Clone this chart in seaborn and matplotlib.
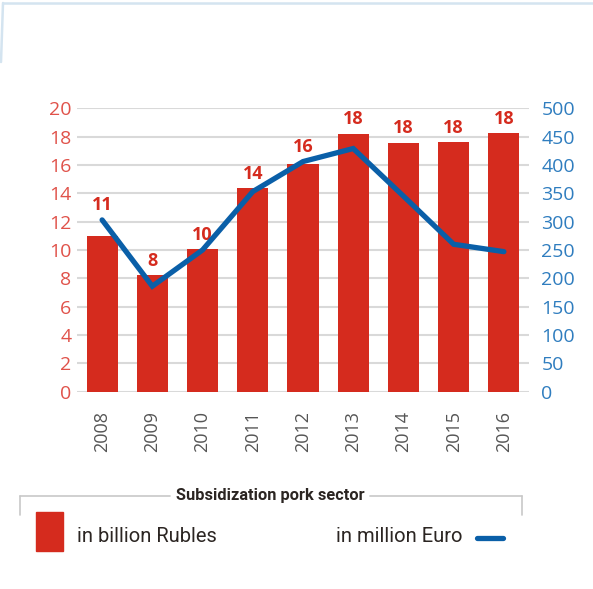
import numpy as np
import pandas as pd
import matplotlib
matplotlib.use("Agg")
import matplotlib.pyplot as plt
from matplotlib.lines import Line2D
from matplotlib.patches import Rectangle
import seaborn as sns

years = ["2008", "2009", "2010", "2011", "2012", "2013", "2014", "2015", "2016"]
rubles_bn = [11.0, 8.2, 10.05, 14.35, 16.1, 18.2, 17.55, 17.6, 18.25]
euro_mn = [303, 186, 250, 353, 406, 429, 345, 260, 247]
bar_labels = ["11", "8", "10", "14", "16", "18", "18", "18", "18"]
left_ticks = list(range(0, 21, 2))
right_ticks = list(range(0, 501, 50))

RED = "#d52b1e"
BLUE = "#0a5fa8"
LRED = "#e0524a"
LBLUE = "#2f7dbf"
GRID = "#d9d9d9"

sns.set_theme(style="white")
plt.rcParams["font.family"] = ["Open Sans", "DejaVu Sans"]

W, H = 593, 589
fig = plt.figure(figsize=(W / 100, H / 100), dpi=100)
ax = fig.add_axes([77 / W, 1 - 391.6 / H, (529 - 77) / W, (391.6 - 108.3) / H])

df = pd.DataFrame({"year": years, "rub": rubles_bn})
sns.barplot(data=df, x="year", y="rub", color=RED, saturation=1, width=0.62, ax=ax, zorder=2)
for p in ax.patches:
    p.set_edgecolor("none")

ax.set_ylim(0, 20)
ax.set_xlim(-0.5, 8.5)
ax.set_yticks(left_ticks)
ax.set_yticklabels([str(t) for t in left_ticks])
ax.grid(axis="y", color=GRID, linewidth=1.5, zorder=0)
ax.set_axisbelow(True)
ax.tick_params(axis="y", length=0, pad=4, labelsize=14, labelcolor=LRED)
ax.tick_params(axis="x", length=0, pad=14, labelsize=13, labelcolor="#555555", rotation=90)
ax.set_xlabel("")
ax.set_ylabel("")
for s in ax.spines.values():
    s.set_visible(False)

ax2 = ax.twinx()
sns.lineplot(x=np.arange(len(years)), y=euro_mn, color=BLUE, linewidth=3.8, ax=ax2,
             solid_capstyle="round", solid_joinstyle="miter", zorder=3)
ax2.set_ylim(0, 500)
ax2.set_yticks(right_ticks)
ax2.set_yticklabels([str(t) for t in right_ticks])
ax2.tick_params(axis="y", length=0, pad=9, labelsize=14, labelcolor=LBLUE)
ax2.set_ylabel("")
for s in ax2.spines.values():
    s.set_visible(False)
ax2.grid(False)

# value labels above the higher of bar / line
for i, (r, e, lab) in enumerate(zip(rubles_bn, euro_mn, bar_labels)):
    top = max(r, e / 25.0)
    ax.annotate(lab, xy=(i, top), xytext=(0, 4), textcoords="offset points",
                ha="center", va="bottom", color=RED, fontsize=13, fontweight="bold",
                annotation_clip=False, zorder=5)

# top decorative frame
fig.add_artist(Line2D([3 / W, 1.0], [1 - 3 / H, 1 - 3 / H], color="#d4e4f0", linewidth=1.8))
fig.add_artist(Line2D([3 / W, 1 / W], [1 - 3 / H, 1 - 62 / H], color="#d4e4f0", linewidth=1.8))

# legend frame
fy = 1 - 495.7 / H
fyb = 1 - 515 / H
lc = "#c8c8c8"
LEGFONT = ["Roboto", "DejaVu Sans"]
fig.add_artist(Line2D([20 / W, 170 / W], [fy, fy], color=lc, linewidth=1.2))
fig.add_artist(Line2D([370 / W, 522 / W], [fy, fy], color=lc, linewidth=1.2))
fig.add_artist(Line2D([20 / W, 20 / W], [fy, fyb], color=lc, linewidth=1.2))
fig.add_artist(Line2D([522 / W, 522 / W], [fy, fyb], color=lc, linewidth=1.2))
fig.text(270 / W, fy, "Subsidization pork sector", ha="center", va="center",
         fontsize=11.8, fontweight="bold", color="#2b2522", family=LEGFONT)

fig.add_artist(Rectangle((36 / W, 1 - 550.7 / H), 27.3 / W, 38.7 / H, color=RED))
fig.text(77 / W, 1 - 536.5 / H, "in billion Rubles", ha="left", va="center",
         fontsize=14.5, color="#2b2522", family=LEGFONT)
fig.text(463 / W, 1 - 536.5 / H, "in million Euro", ha="right", va="center",
         fontsize=14.5, color="#2b2522", family=LEGFONT)
fig.add_artist(Line2D([477 / W, 503 / W], [1 - 537.7 / H, 1 - 537.7 / H], color=BLUE,
                      linewidth=3.8, solid_capstyle="round"))

fig.savefig("out.png", dpi=100)
